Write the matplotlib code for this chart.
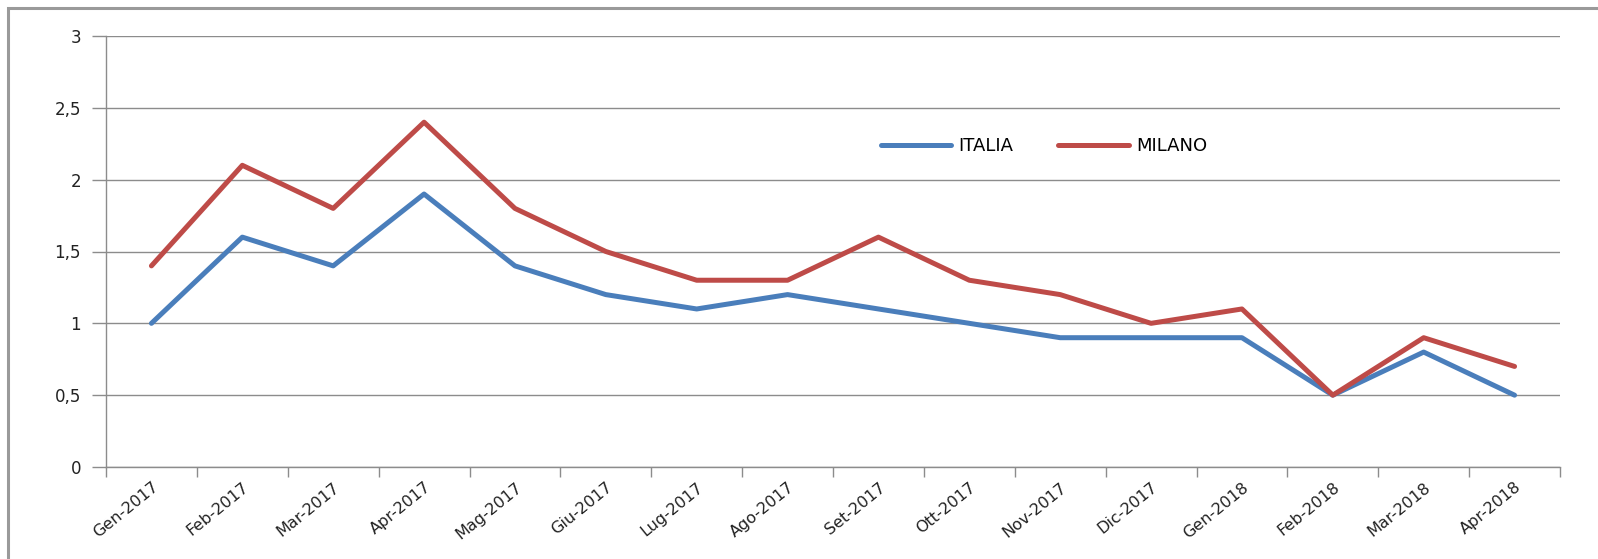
import matplotlib
matplotlib.use("Agg")
import matplotlib.pyplot as plt
from matplotlib.ticker import FixedLocator, FuncFormatter, MultipleLocator
from matplotlib.patches import Rectangle

plt.rcParams['font.family'] = ['DejaVu Sans']

months = ["Gen-2017", "Feb-2017", "Mar-2017", "Apr-2017", "Mag-2017", "Giu-2017",
          "Lug-2017", "Ago-2017", "Set-2017", "Ott-2017", "Nov-2017", "Dic-2017",
          "Gen-2018", "Feb-2018", "Mar-2018", "Apr-2018"]
italia = [1.0, 1.6, 1.4, 1.9, 1.4, 1.2, 1.1, 1.2, 1.1, 1.0, 0.9, 0.9, 0.9, 0.5, 0.8, 0.5]
milano = [1.4, 2.1, 1.8, 2.4, 1.8, 1.5, 1.3, 1.3, 1.6, 1.3, 1.2, 1.0, 1.1, 0.5, 0.9, 0.7]

W, H = 1598, 559
fig = plt.figure(figsize=(W / 100, H / 100), dpi=100)
ax = fig.add_axes([106 / W, 1 - 467 / H, (1560 - 106) / W, (467 - 36) / H])

x = list(range(len(months)))
ax.plot(x, italia, color="#4A7EBB", lw=3.6, label="ITALIA", solid_capstyle='round')
ax.plot(x, milano, color="#BE4B48", lw=3.6, label="MILANO", solid_capstyle='round')

ax.set_xlim(-0.5, len(months) - 0.5)
ax.set_ylim(0, 3)
ax.yaxis.set_major_locator(MultipleLocator(0.5))
ax.yaxis.set_major_formatter(FuncFormatter(
    lambda v, p: ("%g" % v).replace(".", ",")))
ax.grid(axis='y', color="#8C8C8C", lw=1.0)
ax.set_axisbelow(True)

ax.xaxis.set_major_locator(FixedLocator([i - 0.5 for i in range(len(months) + 1)]))
ax.xaxis.set_major_formatter(FuncFormatter(lambda v, p: ""))
ax.xaxis.set_minor_locator(FixedLocator(x))
ax.set_xticklabels(months, minor=True, rotation=39, ha='right', va='top',
                   rotation_mode='anchor', fontsize=11.5, color="#222222")
ax.tick_params(axis='x', which='minor', length=0, pad=9)
ax.tick_params(axis='x', which='major', length=7, width=1, color="#8C8C8C")
ax.tick_params(axis='y', length=10, width=1, color="#8C8C8C", labelsize=12,
               labelcolor="#222222", pad=8)

for s in ['top', 'right']:
    ax.spines[s].set_visible(False)
for s in ['left', 'bottom']:
    ax.spines[s].set_color("#8C8C8C")
    ax.spines[s].set_linewidth(1.0)

leg = ax.legend(loc='center', bbox_to_anchor=(0.645, 0.745), ncol=2, frameon=False,
                fontsize=13, handlelength=3.9, handletextpad=0.4, columnspacing=2.5)

fig.patches.append(Rectangle((8 / W, -0.05), 1.1, 1 - 8 / H + 0.05,
                             transform=fig.transFigure, fill=False,
                             edgecolor="#9A9A9A", lw=2.2))

fig.savefig("out.png", dpi=100)
